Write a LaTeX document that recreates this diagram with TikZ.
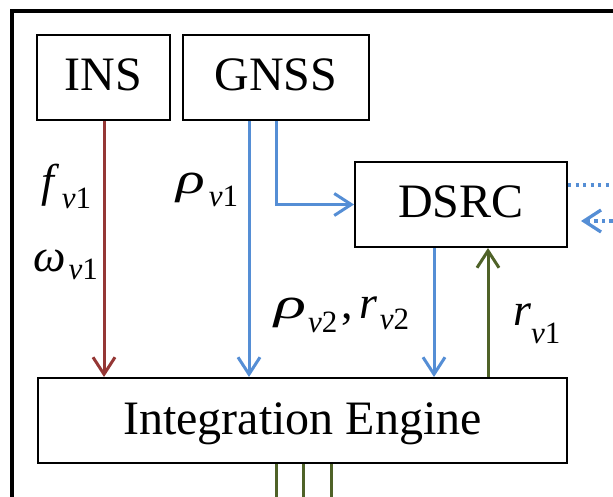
\documentclass[tikz,border=0pt]{standalone}
\usepackage{fontspec}
\setmainfont{Liberation Serif}
\usetikzlibrary{arrows.meta}
\definecolor{insred}{HTML}{953735}
\definecolor{gnssblue}{HTML}{558ED5}
\definecolor{rvgreen}{HTML}{4F6228}
% italic symbol, a gap, then a lowered subscript "v<digit>"
% #1 = how far the subscript drops, #2 = symbol, #3 = gap, #4 = digit
\newcommand\varsym[4][11pt]{{\itshape #2}\kern#3\raisebox{-#1}{\fontsize{31}{31}\selectfont\itshape v\upshape #4}}
% a broad rho
\newcommand\wrho[1]{\scalebox{#1}[0.95]{\itshape ρ}}
\begin{document}
\begin{tikzpicture}[x=1pt,y=-1pt,
  box/.style={draw, line width=2pt, font=\fontsize{48}{52}\selectfont, inner sep=0pt,
    text height=27pt, text depth=0pt},
  flow/.style={line width=3pt, -{Straight Barb[length=17pt,width=22pt]}},
  dots/.style={line width=3.3pt, gnssblue, dash pattern=on 3.3pt off 4.2pt},
  feed/.style={line width=3pt, rvgreen},
  lbl/.style={font=\fontsize{46}{50}\selectfont, inner sep=0pt, anchor=base west}]
\useasboundingbox (0,0) rectangle (613,497);
\clip (0,0) rectangle (613,497);

% outer frame
\draw[line width=4pt] (12,520) -- (12,11) -- (640,11);

% blocks
\node[box, minimum width=133pt, minimum height=85pt] (INS) at (103.5,77.5) {INS};
\node[box, minimum width=186pt, minimum height=85pt] (GNSS) at (276,77.5) {GNSS};
\node[box, minimum width=212pt, minimum height=85pt] (DSRC) at (461,204.5) {DSRC};
\node[box, minimum width=529pt, minimum height=85pt] (IE) at (302.5,420.5) {Integration Engine};

% connector columns
\coordinate (xins) at (104,0);
\coordinate (xg1) at (249,0);
\coordinate (xg2) at (276,0);
\coordinate (xd) at (434,0);
\coordinate (xr) at (488,0);

\draw[flow, insred] (INS.south -| xins) -- (IE.north -| xins);
\draw[flow, gnssblue] (GNSS.south -| xg1) -- (IE.north -| xg1);
\draw[flow, gnssblue] (GNSS.south -| xg2) |- (DSRC.west);
\draw[flow, gnssblue] (DSRC.south -| xd) -- (IE.north -| xd);
\draw[flow, rvgreen] (IE.north -| xr) -- (DSRC.south -| xr);

% outgoing lines below the engine
\coordinate (b1) at (276,510);
\coordinate (b2) at (303,510);
\coordinate (b3) at (331,510);
\draw[feed] (IE.south -| b1) -- (b1);
\draw[feed] (IE.south -| b2) -- (b2);
\draw[feed] (IE.south -| b3) -- (b3);

% wireless links of the DSRC unit
\coordinate (o1) at (620,185);
\coordinate (i1) at (620,221);
\coordinate (i2) at (581,221);
\draw[dots] (DSRC.east |- o1) -- (o1);
\draw[dots, -{Straight Barb[length=17pt,width=22pt]}] (i1) -- (i2);

% signal labels
\node[lbl] (lf) at (41,197) {\varsym[12pt]{f}{8pt}{1}};
\node[lbl] (lw) at (33,271) {\varsym[8pt]{ω}{3pt}{1}};
\node[lbl] (lp) at (176,194) {\varsym[13pt]{\wrho{1.3}}{4pt}{1}};
\node[lbl] (lpr) at (274,318) {\varsym[14pt]{\wrho{1.45}}{2pt}{2}\kern4pt,\kern7pt\varsym[11pt]{r}{2pt}{2}};
\node[lbl] (lr) at (513,325) {\varsym[18pt]{r}{0pt}{1}};
\end{tikzpicture}
\end{document}
